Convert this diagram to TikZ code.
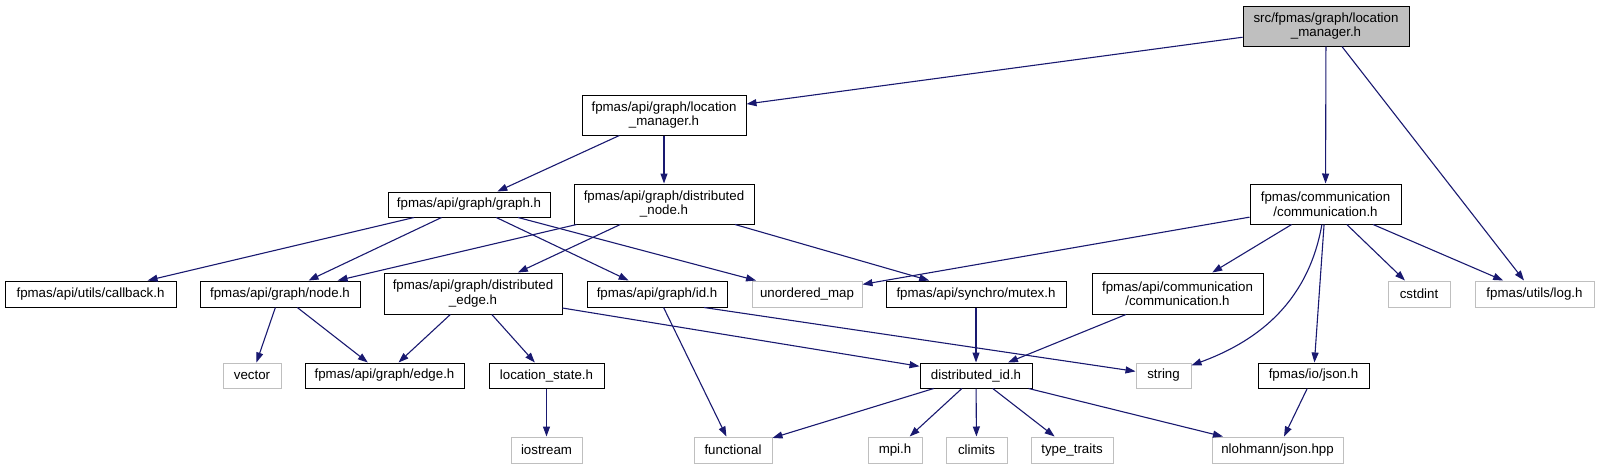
\documentclass[tikz,border=0pt]{standalone}
\usepackage{fontspec}
\setmainfont{Liberation Sans}
\usetikzlibrary{arrows.meta}
\definecolor{edgeblue}{HTML}{191970}
\definecolor{sysgray}{HTML}{BFBFBF}

\begin{document}
\begin{tikzpicture}[
    x=1pt, y=-1pt,
    >={Triangle[length=10pt,width=7pt]},
    filenode/.style={draw=black, fill=white, line width=1pt, inner sep=0pt,
                     align=center, font=\fontsize{13.3}{14.5}\selectfont},
    sysnode/.style={filenode, draw=sysgray},
    rootnode/.style={filenode, fill=sysgray},
    incarrow/.style={->, edgeblue, line width=1.1pt}
]
\useasboundingbox (0,0) rectangle (1597,469);

\node[rootnode, minimum width=166pt, minimum height=40pt] (src)    at (1326, 26)   {src/fpmas/graph/location\\\_manager.h};
\node[filenode, minimum width=164pt, minimum height=40pt] (apilm)  at (664, 115)   {fpmas/api/graph/location\\\_manager.h};
\node[filenode, minimum width=162pt, minimum height=25pt] (graph)  at (469, 204.5) {fpmas/api/graph/graph.h};
\node[filenode, minimum width=180pt, minimum height=40pt] (dnode)  at (664, 204)   {fpmas/api/graph/distributed\\\_node.h};
\node[filenode, minimum width=151pt, minimum height=40pt] (comm)   at (1325.5, 204) {fpmas/communication\\/communication.h};
\node[filenode, minimum width=171pt, minimum height=26pt] (cback)  at (90.5, 294)  {fpmas/api/utils/callback.h};
\node[filenode, minimum width=160pt, minimum height=26pt] (gnode)  at (280, 294)   {fpmas/api/graph/node.h};
\node[filenode, minimum width=178pt, minimum height=41pt] (dedge)  at (473, 293.5) {fpmas/api/graph/distributed\\\_edge.h};
\node[filenode, minimum width=140pt, minimum height=26pt] (gid)    at (657, 294)   {fpmas/api/graph/id.h};
\node[sysnode,  minimum width=110pt, minimum height=26pt] (umap)   at (807, 294)   {unordered\_map};
\node[filenode, minimum width=180pt, minimum height=26pt] (mutex)  at (976, 294)   {fpmas/api/synchro/mutex.h};
\node[filenode, minimum width=171pt, minimum height=41pt] (apicomm) at (1177.5, 293.5) {fpmas/api/communication\\/communication.h};
\node[sysnode,  minimum width=62pt,  minimum height=26pt] (cstdint) at (1419, 294)  {cstdint};
\node[sysnode,  minimum width=119pt, minimum height=26pt] (log)    at (1534.5, 294) {fpmas/utils/log.h};
\node[sysnode,  minimum width=58pt,  minimum height=25pt] (vector) at (252, 375.5)  {vector};
\node[filenode, minimum width=159pt, minimum height=25pt] (gedge)  at (384.5, 375.5) {fpmas/api/graph/edge.h};
\node[filenode, minimum width=115pt, minimum height=25pt] (lstate) at (546.5, 375.5) {location\_state.h};
\node[filenode, minimum width=112pt, minimum height=25pt] (did)    at (976, 375.5)  {distributed\_id.h};
\node[sysnode,  minimum width=55pt,  minimum height=25pt] (string) at (1163.5, 375.5) {string};
\node[filenode, minimum width=111pt, minimum height=25pt] (json)   at (1313.5, 375.5) {fpmas/io/json.h};
\node[sysnode,  minimum width=71pt,  minimum height=26pt] (iostream) at (546.5, 450) {iostream};
\node[sysnode,  minimum width=78pt,  minimum height=26pt] (functional) at (733, 450) {functional};
\node[sysnode,  minimum width=54pt,  minimum height=26pt] (mpi)    at (895, 450)    {mpi.h};
\node[sysnode,  minimum width=61pt,  minimum height=26pt] (climits) at (976.5, 450) {climits};
\node[sysnode,  minimum width=82pt,  minimum height=26pt] (ttraits) at (1072, 450)  {type\_traits};
\node[sysnode,  minimum width=131pt, minimum height=26pt] (nlohmann) at (1277.5, 450) {nlohmann/json.hpp};

% includes of the root file
\draw[incarrow] (src) -- (apilm);
\draw[incarrow] (src) -- (comm);
\draw[incarrow] (src) -- (log);

\draw[incarrow] (apilm) -- (graph);
\draw[incarrow] (apilm) -- (dnode);

\draw[incarrow] (graph) -- (cback);
\draw[incarrow] (graph) -- (gnode);
\draw[incarrow] (graph) -- (gid);
\draw[incarrow] (graph) -- (umap);

\draw[incarrow] (dnode) -- (gnode);
\draw[incarrow] (dnode) -- (dedge);
\draw[incarrow] (dnode) -- (mutex);

\draw[incarrow] (comm) -- (umap);
\draw[incarrow] (comm) -- (apicomm);
\draw[incarrow] (comm) to[out=-100, in=20] (string);
\draw[incarrow] (comm) -- (json);
\draw[incarrow] (comm) -- (cstdint);
\draw[incarrow] (comm) -- (log);

\draw[incarrow] (gnode) -- (vector);
\draw[incarrow] (gnode) -- (gedge);
\draw[incarrow] (dedge) -- (gedge);
\draw[incarrow] (dedge) -- (lstate);
\draw[incarrow] (dedge) -- (did);

\draw[incarrow] (gid) -- (functional);
\draw[incarrow] ([xshift=47pt]gid.south) -- (string);
\draw[incarrow] (mutex) -- (did);
\draw[incarrow] (apicomm) -- (did);
\draw[incarrow] (lstate) -- (iostream);

% distributed_id.h
\draw[incarrow] (did) -- (functional);
\draw[incarrow] (did) -- (mpi);
\draw[incarrow] (did) -- (climits);
\draw[incarrow] (did) -- (ttraits);
\draw[incarrow] (did) -- (nlohmann);
\draw[incarrow] (json) -- (nlohmann);

\end{tikzpicture}
\end{document}
